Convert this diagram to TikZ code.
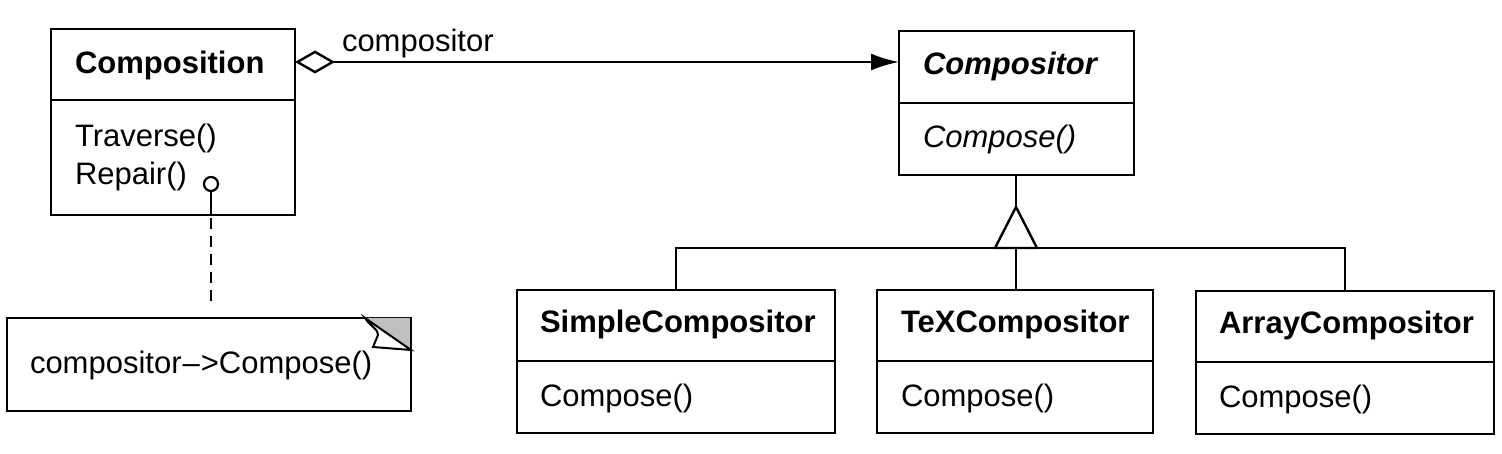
\documentclass[tikz,border=0pt]{standalone}
\usepackage{fontspec}
\setmainfont{Liberation Sans}
\usetikzlibrary{arrows.meta}
\begin{document}
\begin{tikzpicture}[x=1pt,y=-1pt, line width=2.4pt, line join=miter,
  box/.style={draw, rectangle, inner sep=0pt, outer sep=0pt, anchor=north west},
  txt/.style={anchor=base west, inner sep=0pt, outer sep=0pt, font=\fontsize{31}{38}\selectfont},
  btxt/.style={txt, font=\fontsize{31}{38}\selectfont\bfseries},
  conn/.style={draw, line width=2.4pt}]
\useasboundingbox (0,0) rectangle (1502,454);
% Composition
\node[box, minimum width=244pt, minimum height=71pt] (comp-h) at (51,29) {};
\node[box, minimum width=244pt, minimum height=115pt] (comp-b) at (51,100) {};
\node[btxt] (comp-t) at (75,74) {Composition};
\node[txt] (trav) at (75,147) {Traverse()};
\node[txt] (rep) at (75,185) {Repair()};
\node[draw, circle, minimum size=14pt, inner sep=0pt, line width=2.2pt] (dot) at (211,184) {};
% Compositor
\node[box, minimum width=235pt, minimum height=72pt] (cmp-h) at (899,31) {};
\node[box, minimum width=235pt, minimum height=72pt] (cmp-b) at (899,103) {};
\node[btxt, font=\fontsize{31}{38}\selectfont\bfseries\itshape] (cmp-t) at (923,75) {Compositor};
\node[txt, font=\fontsize{31}{38}\selectfont\itshape] (cmp-op) at (923,148) {Compose()};
% Subclasses
\node[box, minimum width=318pt, minimum height=71pt] (simple-h) at (517,290) {};
\node[box, minimum width=318pt, minimum height=72pt] (simple-b) at (517,361) {};
\node[btxt] (simple-t) at (540,333) {SimpleCompositor};
\node[txt] (simple-op) at (540,406) {Compose()};
\node[box, minimum width=276pt, minimum height=71pt] (tex-h) at (877,290) {};
\node[box, minimum width=276pt, minimum height=72pt] (tex-b) at (877,361) {};
\node[btxt] (tex-t) at (901,333) {TeXCompositor};
\node[txt] (tex-op) at (901,406) {Compose()};
\node[box, minimum width=298pt, minimum height=71pt] (arr-h) at (1196,291) {};
\node[box, minimum width=298pt, minimum height=72pt] (arr-b) at (1196,362) {};
\node[btxt] (arr-t) at (1219,334) {ArrayCompositor};
\node[txt] (arr-op) at (1219,407) {Compose()};
% Note
\node[rectangle, inner sep=0pt, outer sep=0pt, anchor=north west, minimum width=404pt, minimum height=93pt] (note) at (7,318) {};
\draw (note.north west) -- (note.north east) -- (note.south east) -- (note.south west) -- cycle;
\coordinate (ea) at (365,318);
\coordinate (eb) at (411,350);
\fill[gray!50] (ea) -- (note.north east) -- (eb) -- cycle;
\draw[fill=white, line width=2pt] (ea) .. controls (370,326) and (379,330) .. (378,335) -- (373,347) -- (eb) -- cycle;
\draw[line width=2.4pt] (note.north east) -- (eb);
\node[txt] (note-t) at (30,373) {compositor{\kern1pt--\kern1pt}>Compose()};
% connectors
\coordinate (agg) at (0,62);
\draw[conn, {Diamond[open, length=40pt, width=23pt, line width=2.4pt]}-{Latex[length=28pt, width=17pt]}] (comp-h.east |- agg) -- (cmp-h.west |- agg);
\node[txt] (agg-l) at (342,52) {compositor};
\draw[conn] (dot.south) -- (dot.south |- comp-b.south);
\draw[conn, dash pattern=on 11pt off 7pt] ([yshift=-3pt]dot.south |- comp-b.south) -- ([yshift=10pt]dot.south |- note.north);
% inheritance
\coordinate (apex) at (1016,207);
\coordinate (base) at (1016,248);
\draw[conn] (cmp-b.south -| apex) -- (apex);
\draw[conn] (apex) -- (995,248) -- (1037,248) -- cycle;
\draw[conn] (simple-h.north) |- (base) -| (arr-h.north);
\draw[conn] (tex-h.north -| base) -- (base);
\end{tikzpicture}
\end{document}
